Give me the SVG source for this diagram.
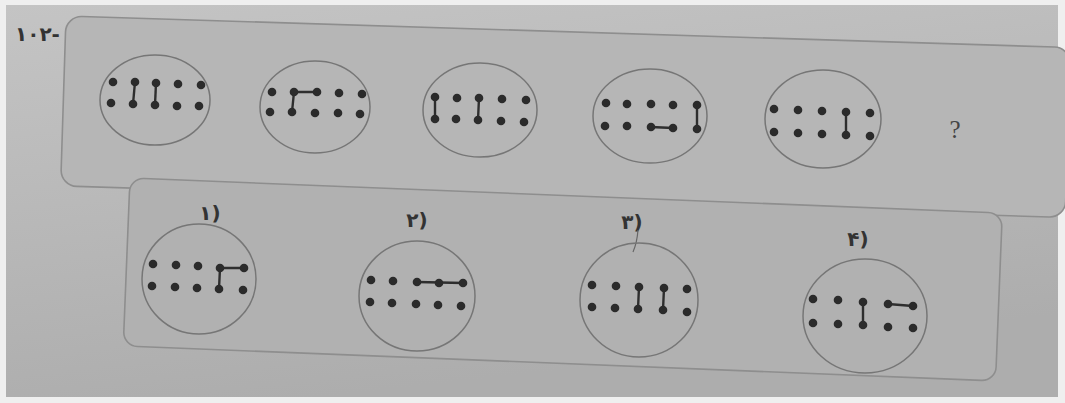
<svg xmlns="http://www.w3.org/2000/svg" width="1065" height="403" viewBox="0 0 1065 403">
<defs>
<linearGradient id="pg" x1="0" y1="0" x2="0.3" y2="1">
<stop offset="0" stop-color="#c4c4c4"/>
<stop offset="1" stop-color="#adadad"/>
</linearGradient>
<style>
.panel{fill:#b6b6b6;stroke:#8e8e8e;stroke-width:1.6}
.panel2{fill:#b1b1b1;stroke:#8e8e8e;stroke-width:1.6}
.ring{fill:none;stroke:#767676;stroke-width:1.5}
.dot{fill:#2b2b2b}
.bar{stroke:#2e2e2e;stroke-width:2.4;stroke-linecap:round}
.lbl{font-family:"DejaVu Sans","Liberation Sans",sans-serif;font-size:20px;font-weight:bold;fill:#333}
</style>
</defs>
<rect x="0" y="0" width="1065" height="403" fill="#efefef"/>
<rect x="6" y="5" width="1052" height="392" fill="url(#pg)"/>
<g id="panel-top"><rect class="panel" x="66" y="16" width="1005" height="170" rx="16" transform="rotate(1.8 66 16)"/></g>
<g id="panel-bottom"><rect class="panel2" x="130" y="178" width="873" height="168" rx="14" transform="rotate(2.3 130 178)"/></g>
<g id="title"><text class="lbl" x="15" y="41" font-size="17">۱۰۲-</text></g>
<g id="q"><text x="955" y="138" font-family="Liberation Serif,serif" font-size="25" fill="#444" text-anchor="middle">?</text></g>

<g id="c1">
<ellipse class="ring" cx="155" cy="100" rx="55" ry="45"/>
<line class="bar" x1="135" y1="82" x2="133" y2="104"/><line class="bar" x1="156" y1="83" x2="155" y2="105"/>
<circle class="dot" cx="113" cy="82" r="4.3"/><circle class="dot" cx="135" cy="82" r="4.3"/><circle class="dot" cx="156" cy="83" r="4.3"/><circle class="dot" cx="178" cy="84" r="4.3"/><circle class="dot" cx="201" cy="85" r="4.3"/>
<circle class="dot" cx="111" cy="103" r="4.3"/><circle class="dot" cx="133" cy="104" r="4.3"/><circle class="dot" cx="155" cy="105" r="4.3"/><circle class="dot" cx="177" cy="106" r="4.3"/><circle class="dot" cx="199" cy="106" r="4.3"/>
</g>

<g id="c2">
<ellipse class="ring" cx="315" cy="107" rx="55" ry="46"/>
<line class="bar" x1="294" y1="92" x2="317" y2="92"/><line class="bar" x1="294" y1="92" x2="292" y2="112"/>
<circle class="dot" cx="272" cy="92" r="4.3"/><circle class="dot" cx="294" cy="92" r="4.3"/><circle class="dot" cx="317" cy="92" r="4.3"/><circle class="dot" cx="339" cy="93" r="4.3"/><circle class="dot" cx="362" cy="94" r="4.3"/>
<circle class="dot" cx="270" cy="112" r="4.3"/><circle class="dot" cx="292" cy="112" r="4.3"/><circle class="dot" cx="315" cy="113" r="4.3"/><circle class="dot" cx="338" cy="113" r="4.3"/><circle class="dot" cx="360" cy="114" r="4.3"/>
</g>

<g id="c3">
<ellipse class="ring" cx="480" cy="110" rx="57" ry="47"/>
<line class="bar" x1="435" y1="97" x2="435" y2="119"/><line class="bar" x1="479" y1="98" x2="478" y2="120"/>
<circle class="dot" cx="435" cy="97" r="4.3"/><circle class="dot" cx="457" cy="98" r="4.3"/><circle class="dot" cx="479" cy="98" r="4.3"/><circle class="dot" cx="502" cy="99" r="4.3"/><circle class="dot" cx="526" cy="100" r="4.3"/>
<circle class="dot" cx="435" cy="119" r="4.3"/><circle class="dot" cx="456" cy="119" r="4.3"/><circle class="dot" cx="478" cy="120" r="4.3"/><circle class="dot" cx="501" cy="121" r="4.3"/><circle class="dot" cx="524" cy="122" r="4.3"/>
</g>

<g id="c4">
<ellipse class="ring" cx="650" cy="116" rx="57" ry="47"/>
<line class="bar" x1="651" y1="127" x2="673" y2="128"/><line class="bar" x1="697" y1="105" x2="697" y2="128"/>
<circle class="dot" cx="606" cy="103" r="4.3"/><circle class="dot" cx="627" cy="104" r="4.3"/><circle class="dot" cx="651" cy="104" r="4.3"/><circle class="dot" cx="673" cy="105" r="4.3"/><circle class="dot" cx="697" cy="105" r="4.3"/>
<circle class="dot" cx="605" cy="126" r="4.3"/><circle class="dot" cx="627" cy="126" r="4.3"/><circle class="dot" cx="651" cy="127" r="4.3"/><circle class="dot" cx="673" cy="128" r="4.3"/><circle class="dot" cx="697" cy="129" r="4.3"/>
</g>

<g id="c5">
<ellipse class="ring" cx="823" cy="119" rx="58" ry="49"/>
<line class="bar" x1="846" y1="112" x2="846" y2="135"/>
<circle class="dot" cx="774" cy="109" r="4.3"/><circle class="dot" cx="798" cy="110" r="4.3"/><circle class="dot" cx="822" cy="111" r="4.3"/><circle class="dot" cx="846" cy="112" r="4.3"/><circle class="dot" cx="870" cy="113" r="4.3"/>
<circle class="dot" cx="774" cy="132" r="4.3"/><circle class="dot" cx="798" cy="133" r="4.3"/><circle class="dot" cx="822" cy="134" r="4.3"/><circle class="dot" cx="846" cy="135" r="4.3"/><circle class="dot" cx="870" cy="136" r="4.3"/>
</g>

<g id="opt1">
<text class="lbl" x="210" y="220" text-anchor="middle">۱)</text>
<ellipse class="ring" cx="199" cy="279" rx="57" ry="55"/>
<line class="bar" x1="220" y1="268" x2="244" y2="268"/><line class="bar" x1="220" y1="268" x2="219" y2="289"/>
<circle class="dot" cx="153" cy="264" r="4.3"/><circle class="dot" cx="176" cy="265" r="4.3"/><circle class="dot" cx="198" cy="266" r="4.3"/><circle class="dot" cx="220" cy="268" r="4.3"/><circle class="dot" cx="244" cy="268" r="4.3"/>
<circle class="dot" cx="152" cy="286" r="4.3"/><circle class="dot" cx="175" cy="287" r="4.3"/><circle class="dot" cx="197" cy="288" r="4.3"/><circle class="dot" cx="219" cy="289" r="4.3"/><circle class="dot" cx="243" cy="290" r="4.3"/>
</g>

<g id="opt2">
<text class="lbl" x="417" y="227" text-anchor="middle">۲)</text>
<ellipse class="ring" cx="417" cy="296" rx="58" ry="55"/>
<line class="bar" x1="417" y1="282" x2="463" y2="283"/>
<circle class="dot" cx="371" cy="280" r="4.3"/><circle class="dot" cx="393" cy="281" r="4.3"/><circle class="dot" cx="417" cy="282" r="4.3"/><circle class="dot" cx="439" cy="283" r="4.3"/><circle class="dot" cx="463" cy="283" r="4.3"/>
<circle class="dot" cx="370" cy="302" r="4.3"/><circle class="dot" cx="392" cy="303" r="4.3"/><circle class="dot" cx="416" cy="304" r="4.3"/><circle class="dot" cx="438" cy="305" r="4.3"/><circle class="dot" cx="461" cy="306" r="4.3"/>
</g>

<g id="opt3">
<text class="lbl" x="632" y="229" text-anchor="middle">۳)</text>
<path d="M638 230 Q637 243 633 252" fill="none" stroke="#666" stroke-width="1.2"/>
<ellipse class="ring" cx="639" cy="300" rx="59" ry="57"/>
<line class="bar" x1="639" y1="287" x2="638" y2="309"/><line class="bar" x1="664" y1="288" x2="663" y2="310"/>
<circle class="dot" cx="592" cy="285" r="4.3"/><circle class="dot" cx="616" cy="286" r="4.3"/><circle class="dot" cx="639" cy="287" r="4.3"/><circle class="dot" cx="664" cy="288" r="4.3"/><circle class="dot" cx="687" cy="289" r="4.3"/>
<circle class="dot" cx="592" cy="307" r="4.3"/><circle class="dot" cx="615" cy="308" r="4.3"/><circle class="dot" cx="638" cy="309" r="4.3"/><circle class="dot" cx="663" cy="310" r="4.3"/><circle class="dot" cx="687" cy="312" r="4.3"/>
</g>

<g id="opt4">
<text class="lbl" x="858" y="246" text-anchor="middle">۴)</text>
<ellipse class="ring" cx="865" cy="316" rx="62" ry="57"/>
<line class="bar" x1="863" y1="302" x2="863" y2="325"/><line class="bar" x1="888" y1="304" x2="913" y2="306"/>
<circle class="dot" cx="813" cy="299" r="4.3"/><circle class="dot" cx="838" cy="300" r="4.3"/><circle class="dot" cx="863" cy="302" r="4.3"/><circle class="dot" cx="888" cy="304" r="4.3"/><circle class="dot" cx="913" cy="306" r="4.3"/>
<circle class="dot" cx="813" cy="323" r="4.3"/><circle class="dot" cx="838" cy="324" r="4.3"/><circle class="dot" cx="863" cy="325" r="4.3"/><circle class="dot" cx="888" cy="327" r="4.3"/><circle class="dot" cx="913" cy="328" r="4.3"/>
</g>
</svg>
